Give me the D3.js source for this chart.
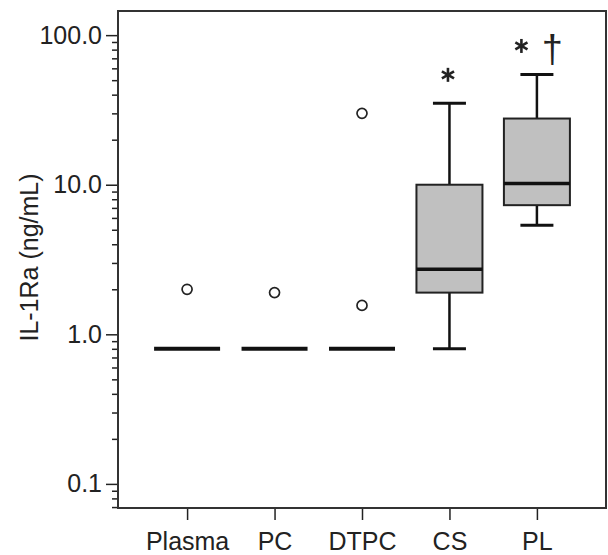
<!DOCTYPE html>
<html>
<head>
<meta charset="utf-8">
<script src="https://cdn.jsdelivr.net/npm/d3@7"></script>
<style>
    body { margin: 0; background: #fff; }
    text { font-family: Arial, "Liberation Sans", sans-serif; fill: #222; }
</style>
</head>
<body>
<script>
// values (ng/mL)
var categories = ["Plasma", "PC", "DTPC", "CS", "PL"];
var whiskerLow = [0.8, 0.8, 0.8, 0.8, 5.35];
var q1 = [0.8, 0.8, 0.8, 1.9, 7.3];
var median = [0.8, 0.8, 0.8, 2.72, 10.2];
var q3 = [0.8, 0.8, 0.8, 10, 27.7];
var whiskerHigh = [0.8, 0.8, 0.8, 35, 54.6];
var outliers = [[2.0], [1.9], [30, 1.56], [], []];
// significance marks: * vs plasma, dagger vs CS
var starMarks = [false, false, false, true, true];
var daggerMarks = [false, false, false, false, true];
var majorTicks = [0.1, 1, 10, 100];

var width = 608,
    height = 555,
    margin = { top: 11, right: 2, bottom: 47, left: 118 },
    plotW = width - margin.left - margin.right,
    plotH = height - margin.top - margin.bottom;

var svg = d3.select("body").append("svg")
    .attr("width", width)
    .attr("height", height);

var g = svg.append("g")
    .attr("transform", "translate(" + margin.left + "," + margin.top + ")");

var x = d3.scalePoint()
    .domain(categories)
    .range([0, plotW])
    .padding(0.79);

var y = d3.scaleLog()
    .domain([0.069, 145])
    .range([plotH, 0]);

// minor ticks 2..9 in every decade
var minorTicks = y.ticks().filter(t => majorTicks.indexOf(t) < 0 && Math.abs(Math.log10(t) % 1) > 1e-6);

g.append("g")
    .attr("class", "minor")
    .call(d3.axisLeft(y).tickValues(minorTicks).tickSize(6).tickFormat(""))
    .call(a => a.select(".domain").remove())
    .call(a => a.selectAll("line").attr("stroke", "#222").attr("stroke-width", 1.5));

g.append("g")
    .attr("class", "major")
    .call(d3.axisLeft(y).tickValues(majorTicks).tickSize(12).tickPadding(4).tickFormat(d3.format(".1f")))
    .call(a => a.select(".domain").remove())
    .call(a => a.selectAll("line").attr("stroke", "#222").attr("stroke-width", 1.5))
    .call(a => a.selectAll("text").style("font-size", "25px").attr("fill", "#222"));

g.append("g")
    .attr("transform", "translate(0," + plotH + ")")
    .call(d3.axisBottom(x).tickSize(12).tickPadding(12))
    .call(a => a.select(".domain").remove())
    .call(a => a.selectAll("line").attr("stroke", "#222").attr("stroke-width", 1.5))
    .call(a => a.selectAll("text").style("font-size", "25px").attr("fill", "#222"));

// frame
g.append("rect")
    .attr("width", plotW)
    .attr("height", plotH)
    .attr("fill", "none")
    .attr("stroke", "#333")
    .attr("stroke-width", 2);

svg.append("text")
    .attr("transform", "translate(38," + (margin.top + plotH / 2 - 2) + ") rotate(-90)")
    .attr("text-anchor", "middle")
    .style("font-size", "25px")
    .text("IL-1Ra (ng/mL)");

var boxW = 66, capW = 33;

// six-armed asterisk like the original figure
function asterisk(sel, cx, cy, r) {
    [90, 30, -30].forEach(function (deg) {
        var a = deg * Math.PI / 180;
        sel.append("line")
            .attr("x1", cx - r * Math.cos(a)).attr("y1", cy - r * Math.sin(a))
            .attr("x2", cx + r * Math.cos(a)).attr("y2", cy + r * Math.sin(a))
            .attr("stroke", "#222")
            .attr("stroke-width", 2.6);
    });
}

categories.forEach(function (cat, i) {
    var cx = x(cat);
    var bg = g.append("g").attr("class", "box");

    if (q3[i] > q1[i]) {
        // whiskers
        bg.append("line")
            .attr("x1", cx).attr("x2", cx)
            .attr("y1", y(q3[i])).attr("y2", y(whiskerHigh[i]))
            .attr("stroke", "#111").attr("stroke-width", 2.5);
        bg.append("line")
            .attr("x1", cx).attr("x2", cx)
            .attr("y1", y(q1[i])).attr("y2", y(whiskerLow[i]))
            .attr("stroke", "#111").attr("stroke-width", 2.5);
        [whiskerHigh[i], whiskerLow[i]].forEach(function (v) {
            bg.append("line")
                .attr("x1", cx - capW / 2).attr("x2", cx + capW / 2)
                .attr("y1", y(v)).attr("y2", y(v))
                .attr("stroke", "#111").attr("stroke-width", 3);
        });
        bg.append("rect")
            .attr("x", cx - boxW / 2)
            .attr("y", y(q3[i]))
            .attr("width", boxW)
            .attr("height", y(q1[i]) - y(q3[i]))
            .attr("fill", "#c0c0c0")
            .attr("stroke", "#222")
            .attr("stroke-width", 2);
        bg.append("line")
            .attr("x1", cx - boxW / 2).attr("x2", cx + boxW / 2)
            .attr("y1", y(median[i])).attr("y2", y(median[i]))
            .attr("stroke", "#111").attr("stroke-width", 3.5);
    } else {
        // collapsed box: everything at the detection limit
        bg.append("line")
            .attr("x1", cx - boxW / 2).attr("x2", cx + boxW / 2)
            .attr("y1", y(median[i])).attr("y2", y(median[i]))
            .attr("stroke", "#111").attr("stroke-width", 4);
    }

    outliers[i].forEach(function (v) {
        bg.append("circle")
            .attr("cx", cx).attr("cy", y(v))
            .attr("r", 5)
            .attr("fill", "#fff")
            .attr("stroke", "#222")
            .attr("stroke-width", 1.7);
    });

    var top = y(whiskerHigh[i]);
    if (starMarks[i]) {
        asterisk(g, daggerMarks[i] ? cx - 15.5 : cx - 1.5, top - 28.5, 7);
    }
    if (daggerMarks[i]) {
        g.append("text")
            .attr("x", cx + 15.5)
            .attr("y", top - 12)
            .attr("text-anchor", "middle")
            .style("font-size", "38px")
            .attr("fill", "#444")
            .text("\u2020");
    }
});
</script>
</body>
</html>
